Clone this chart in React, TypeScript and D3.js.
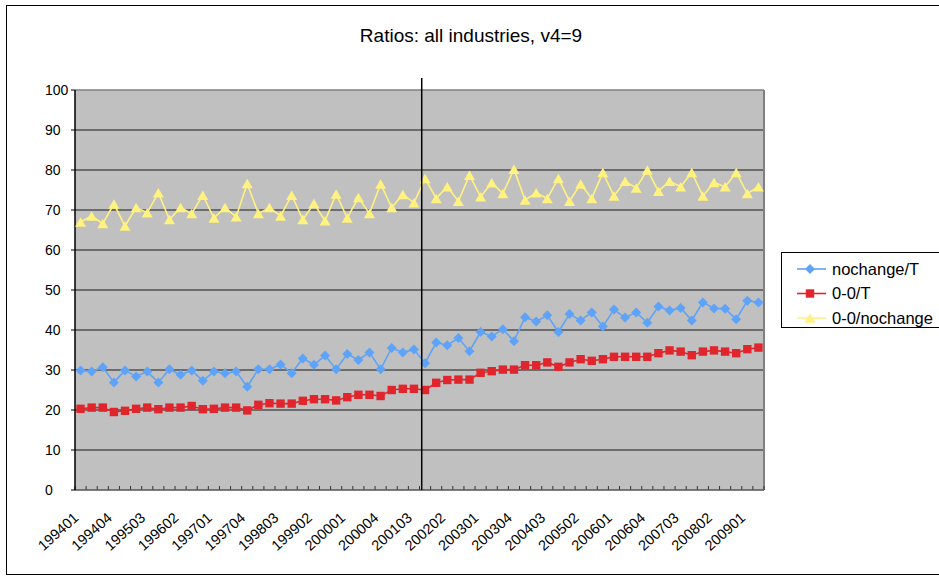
import React from "react";
import * as d3 from "d3";

const categories = [
  "199401","199402","199403","199404","199501","199502","199503","199504",
  "199601","199602","199603","199604","199701","199702","199703","199704",
  "199801","199802","199803","199804","199901","199902","199903","199904",
  "200001","200002","200003","200004","200101","200102","200103","200104",
  "200201","200202","200203","200204","200301","200302","200303","200304",
  "200401","200402","200403","200404","200501","200502","200503","200504",
  "200601","200602","200603","200604","200701","200702","200703","200704",
  "200801","200802","200803","200804","200901","200902",
];

const tickLabels = [
  "199401","199404","199503","199602","199701","199704","199803","199902",
  "200001","200004","200103","200202","200301","200304","200403","200502",
  "200601","200604","200703","200802","200901",
];

const nochangeT = [
  29.9,29.6,30.7,26.9,29.9,28.4,29.6,26.9,30.2,28.8,29.9,27.3,29.6,29.2,29.6,25.8,
  30.2,30.2,31.4,29.2,32.9,31.3,33.6,30.2,34.0,32.5,34.4,30.2,35.5,34.4,35.1,31.7,
  36.9,36.2,38.0,34.7,39.5,38.4,40.2,37.2,43.2,42.1,43.7,39.5,44.0,42.4,44.4,40.9,
  45.1,43.1,44.4,41.8,45.9,44.9,45.5,42.4,46.9,45.4,45.3,42.7,47.3,46.9,
];

const zeroZeroT = [
  20.3,20.6,20.6,19.5,19.8,20.3,20.6,20.2,20.6,20.6,21.0,20.2,20.3,20.6,20.6,19.9,
  21.3,21.7,21.6,21.6,22.3,22.7,22.7,22.4,23.2,23.8,23.8,23.5,25.0,25.3,25.3,25.0,
  26.8,27.5,27.6,27.6,29.3,29.7,30.1,30.1,31.2,31.2,31.9,30.8,31.9,32.7,32.3,32.7,
  33.3,33.3,33.3,33.3,34.2,34.9,34.6,33.7,34.6,34.9,34.6,34.2,35.2,35.6,
];

const zeroZeroNochange = [
  67.0,68.5,66.6,71.5,66.0,70.6,69.3,74.3,67.6,70.6,69.1,73.7,68.0,70.6,68.3,76.6,
  69.1,70.6,68.5,73.7,67.6,71.6,67.3,74.0,68.0,73.1,69.1,76.5,70.6,73.9,71.8,77.9,
  72.9,75.8,72.2,78.7,73.3,76.8,74.1,80.2,72.5,74.3,72.9,77.9,72.2,76.5,72.9,79.4,
  73.5,77.2,75.5,80.0,74.7,77.2,75.8,79.4,73.5,76.9,75.8,79.4,74.1,75.8,
];

const yTicks = [0, 10, 20, 30, 40, 50, 60, 70, 80, 90, 100];
const dividerCategory = "200104";

const seriesNames = ["nochange/T", "0-0/T", "0-0/nochange"];
const seriesColors = ["#5EA3F7", "#E0262C", "#FFF27E"];
const seriesMarkers = ["diamond", "square", "triangle"];

const W = 939;
const H = 577;
const left = 75;
const right = 764;
const top = 90;
const bottom = 490;
const FONT = "'Liberation Sans', Arial, sans-serif";

function markerPath(kind: string, cx: number, cy: number): string {
  if (kind === "diamond") {
    const r = 5;
    return `M${cx},${cy - r}L${cx + r},${cy}L${cx},${cy + r}L${cx - r},${cy}Z`;
  }
  if (kind === "square") {
    const r = 4.2;
    return `M${cx - r},${cy - r}H${cx + r}V${cy + r}H${cx - r}Z`;
  }
  const w = 5.5;
  const h = 9.5;
  return `M${cx},${cy - h / 2}L${cx + w},${cy + h / 2}L${cx - w},${cy + h / 2}Z`;
}

export default function App() {
  const x = d3.scaleBand<string>().domain(categories).range([left, right]).padding(0);
  const bw = x.bandwidth();
  const cx = (c: string) => (x(c) as number) + bw / 2;
  const y = d3.scaleLinear().domain([0, 100]).range([bottom, top]);

  const allSeries = [nochangeT, zeroZeroT, zeroZeroNochange];
  const line = d3
    .line<number>()
    .x((_, i) => cx(categories[i]))
    .y((d) => y(d));

  const dividerX = (x(dividerCategory) as number) + 0.2 * bw;

  const boundaries = d3.range(categories.length + 1).map((i) => left + i * bw);

  return (
    <svg
      width={W}
      height={H}
      style={{ position: "absolute", left: 0, top: 0, background: "#fff" }}
      fontFamily={FONT}
    >
      <rect x={6.5} y={5.5} width={960} height={569} fill="#fff" stroke="#000" strokeWidth={1} />
      <text x={471} y={42} textAnchor="middle" fontSize={19} fill="#000">
        Ratios: all industries, v4=9
      </text>

      <rect x={left} y={top} width={right - left} height={bottom - top} fill="#C0C0C0" />
      {yTicks
        .filter((t) => t > 0 && t < 100)
        .map((t) => (
          <line key={t} x1={left} x2={right} y1={y(t)} y2={y(t)} stroke="#1a1a1a" strokeWidth={1.2} />
        ))}
      <line x1={left} x2={right} y1={top} y2={top} stroke="#808080" strokeWidth={1.5} />
      <line x1={right} x2={right} y1={top} y2={bottom} stroke="#808080" strokeWidth={2} />

      {boundaries.map((bx, i) => (
        <line key={i} x1={bx} x2={bx} y1={bottom} y2={bottom - 4} stroke="#333" strokeWidth={1} />
      ))}
      <line x1={left} x2={right} y1={bottom} y2={bottom} stroke="#555" strokeWidth={1.5} />
      <line x1={left} x2={left} y1={top} y2={bottom} stroke="#000" strokeWidth={1.5} />
      {yTicks.map((t) => (
        <g key={t}>
          <line x1={left - 4} x2={left} y1={y(t)} y2={y(t)} stroke="#000" strokeWidth={1} />
          <text x={45} y={y(t)} dy="0.36em" fontSize={14} fill="#000">
            {t}
          </text>
        </g>
      ))}

      {tickLabels.map((lab) => (
        <text
          key={lab}
          transform={`translate(${cx(lab) - 1},${519}) rotate(-42)`}
          textAnchor="end"
          fontSize={14.5}
          fill="#000"
        >
          {lab}
        </text>
      ))}

      {allSeries.map((s, si) => (
        <g key={si}>
          <path d={line(s) as string} fill="none" stroke={seriesColors[si]} strokeWidth={1.6} />
          {s.map((v, i) => (
            <path key={i} d={markerPath(seriesMarkers[si], cx(categories[i]), y(v))} fill={seriesColors[si]} />
          ))}
        </g>
      ))}

      <line x1={dividerX} x2={dividerX} y1={78} y2={bottom} stroke="#000" strokeWidth={1.5} />

      <rect x={781.5} y={252.5} width={200} height={75} fill="#fff" stroke="#000" strokeWidth={1} />
      {seriesNames.map((n, i) => {
        const ly = 269 + i * 24.5;
        return (
          <g key={n}>
            <line x1={797} x2={826} y1={ly} y2={ly} stroke={seriesColors[i]} strokeWidth={1.6} />
            <path d={markerPath(seriesMarkers[i], 810, ly)} fill={seriesColors[i]} />
            <text x={832} y={ly} dy="0.36em" fontSize={16.5} fill="#000">
              {n}
            </text>
          </g>
        );
      })}
    </svg>
  );
}
